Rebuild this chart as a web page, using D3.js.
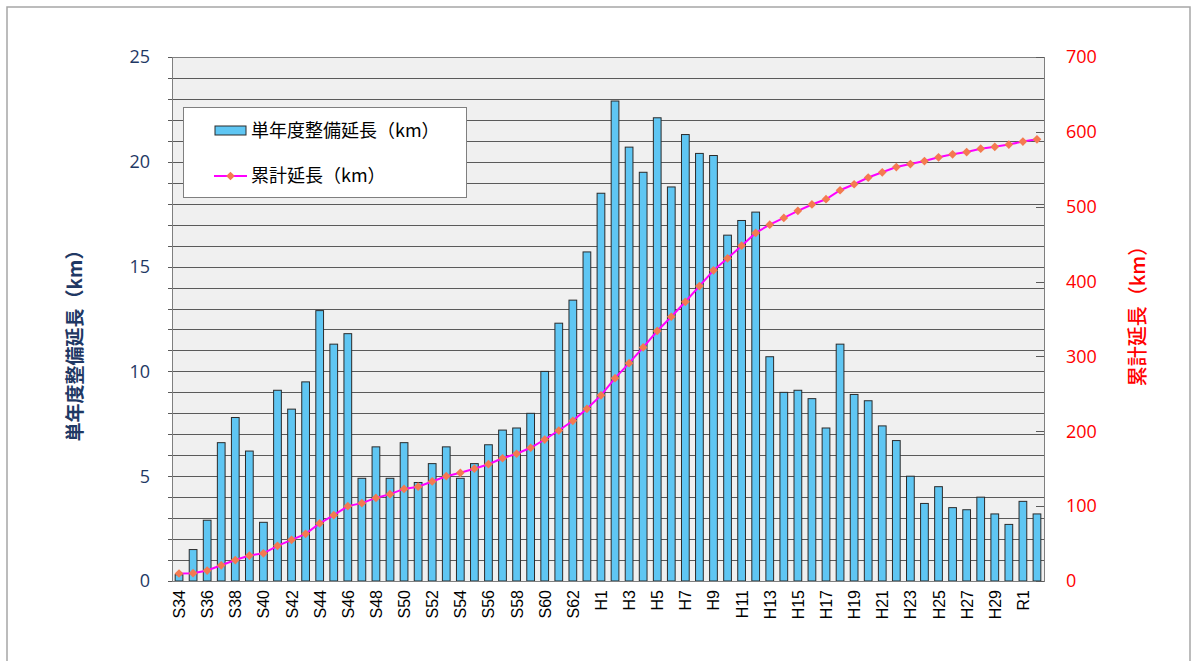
<!DOCTYPE html>
<html>
<head>
<meta charset="utf-8">
<script src="https://cdn.jsdelivr.net/npm/d3@7"></script>
<style>
  body { margin: 0; background: #fff; }
  svg { display: block; }
</style>
</head>
<body>
<div id="chart"></div>
<script>
// fiscal years S34..S63, H1..H30, R1, R2
const years = [];
for (let i = 34; i <= 63; i++) years.push("S" + i);
for (let i = 1; i <= 30; i++) years.push("H" + i);
years.push("R1", "R2");

// single-year length (km)
const yearly = [0.3, 1.5, 2.9, 6.6, 7.8, 6.2, 2.8, 9.1, 8.2, 9.5,
    12.9, 11.3, 11.8, 4.9, 6.4, 4.9, 6.6, 4.7, 5.6, 6.4,
    4.9, 5.6, 6.5, 7.2, 7.3, 8.0, 10.0, 12.3, 13.4, 15.7,
    18.5, 22.9, 20.7, 19.5, 22.1, 18.8, 21.3, 20.4, 20.3, 16.5,
    17.2, 17.6, 10.7, 9.0, 9.1, 8.7, 7.3, 11.3, 8.9, 8.6,
    7.4, 6.7, 5.0, 3.7, 4.5, 3.5, 3.4, 4.0, 3.2, 2.7,
    3.8, 3.2];

// cumulative length (km)
const cumulative = [10, 10.5, 14, 21, 28, 34, 37, 47, 55, 63,
    77, 88, 100, 104, 111, 116, 123, 126, 133, 140,
    144.5, 150, 156, 164, 170, 178, 189, 201, 214, 230,
    248, 271, 291, 312, 334, 353, 373, 394, 415, 431,
    448, 465, 476, 485, 494.5, 503, 510, 522, 530, 539,
    546, 553, 557, 561, 566, 570, 573, 577.5, 580, 583,
    587, 590];

const leftTicks = [0, 5, 10, 15, 20, 25];
const rightTicks = [0, 100, 200, 300, 400, 500, 600, 700];
const barLabel = "単年度整備延長（km）";
const lineLabel = "累計延長（km）";

const W = 1192, H = 661;
const plot = {left: 172, right: 1044, top: 57, bottom: 581};

const svg = d3.select("#chart").append("svg")
    .attr("width", W)
    .attr("height", H);

// outer frame
svg.append("rect")
    .attr("x", 7).attr("y", 7)
    .attr("width", 1183).attr("height", 670)
    .attr("fill", "none")
    .attr("stroke", "#a6a6a6")
    .attr("stroke-width", 1.5);

const x = d3.scaleBand()
    .domain(years)
    .range([plot.left, plot.right])
    .paddingInner(0.45)
    .paddingOuter(0.225);

const y = d3.scaleLinear().domain([0, 25]).range([plot.bottom, plot.top]);
const y2 = d3.scaleLinear().domain([0, 700]).range([plot.bottom, plot.top]);

// plot background
svg.append("rect")
    .attr("x", plot.left).attr("y", plot.top)
    .attr("width", plot.right - plot.left)
    .attr("height", plot.bottom - plot.top)
    .attr("fill", "#f0f0f0");

// gridlines every 1 km
svg.append("g")
    .selectAll("line")
    .data(d3.range(0, 26))
    .join("line")
    .attr("x1", plot.left - 4)
    .attr("x2", plot.right)
    .attr("y1", d => Math.round(y(d)) + 0.5)
    .attr("y2", d => Math.round(y(d)) + 0.5)
    .attr("stroke", "#5a5a5a")
    .attr("stroke-width", 1);

// bars
svg.append("g")
    .selectAll("rect")
    .data(yearly)
    .join("rect")
    .attr("x", (d, i) => x(years[i]))
    .attr("y", d => y(d))
    .attr("width", x.bandwidth())
    .attr("height", d => y(0) - y(d))
    .attr("fill", "#5fc6f3")
    .attr("stroke", "#2b2b2b")
    .attr("stroke-width", 1);

// plot border
svg.append("rect")
    .attr("x", plot.left + 0.5).attr("y", plot.top + 0.5)
    .attr("width", plot.right - plot.left)
    .attr("height", plot.bottom - plot.top)
    .attr("fill", "none")
    .attr("stroke", "#7f7f7f")
    .attr("stroke-width", 1);

// right axis inner ticks
svg.append("g")
    .selectAll("line")
    .data(rightTicks)
    .join("line")
    .attr("x1", plot.right - 8)
    .attr("x2", plot.right)
    .attr("y1", d => Math.round(y2(d)) + 0.5)
    .attr("y2", d => Math.round(y2(d)) + 0.5)
    .attr("stroke", "#5a5a5a");

// cumulative line
const cx = i => x(years[i]) + x.bandwidth() / 2;
const marker = d3.symbol(d3.symbolSquare, 38);
svg.append("path")
    .datum(cumulative)
    .attr("fill", "none")
    .attr("stroke", "#ff00ff")
    .attr("stroke-width", 2)
    .attr("d", d3.line().x((d, i) => cx(i)).y(d => y2(d)));

svg.append("g")
    .selectAll("path")
    .data(cumulative)
    .join("path")
    .attr("transform", (d, i) => `translate(${cx(i)},${y2(d)}) rotate(45)`)
    .attr("d", marker)
    .attr("fill", "#f47a50");

// left axis labels
svg.append("g")
    .selectAll("text")
    .data(leftTicks)
    .join("text")
    .attr("x", 150)
    .attr("y", d => y(d))
    .attr("dy", "0.35em")
    .attr("text-anchor", "end")
    .attr("font-family", "'Open Sans', sans-serif")
    .attr("font-size", 18)
    .attr("fill", "#1f3864")
    .text(d => d);

// right axis labels
svg.append("g")
    .selectAll("text")
    .data(rightTicks)
    .join("text")
    .attr("x", 1066)
    .attr("y", d => y2(d))
    .attr("dy", "0.35em")
    .attr("text-anchor", "start")
    .attr("font-family", "'Open Sans', sans-serif")
    .attr("font-size", 18)
    .attr("fill", "#ff0000")
    .text(d => d);

// x labels, every other year
svg.append("g")
    .selectAll("text")
    .data(years.filter((d, i) => i % 2 === 0))
    .join("text")
    .attr("transform", d => `translate(${x(d) + x.bandwidth() / 2 + 6},590) rotate(-90)`)
    .attr("text-anchor", "end")
    .attr("font-family", "'Liberation Sans', Arial, sans-serif")
    .attr("font-size", 16)
    .attr("fill", "#000")
    .text(d => d);

// axis titles
svg.append("text")
    .attr("transform", "translate(82,341) rotate(-90)")
    .attr("text-anchor", "middle")
    .attr("font-family", "'Noto Sans CJK JP', sans-serif")
    .attr("font-weight", "bold")
    .attr("font-size", 19)
    .attr("fill", "#1f3864")
    .text(barLabel);

svg.append("text")
    .attr("transform", "translate(1145,311) rotate(-90)")
    .attr("text-anchor", "middle")
    .attr("font-family", "'Noto Sans CJK JP', sans-serif")
    .attr("font-weight", 500)
    .attr("font-size", 20)
    .attr("fill", "#ff0000")
    .text(lineLabel);

// legend
const legend = svg.append("g");
legend.append("rect")
    .attr("x", 183.5).attr("y", 107.5)
    .attr("width", 283).attr("height", 90)
    .attr("fill", "#fff")
    .attr("stroke", "#7f7f7f");
legend.append("rect")
    .attr("x", 215).attr("y", 126)
    .attr("width", 31).attr("height", 9)
    .attr("fill", "#5fc6f3")
    .attr("stroke", "#2b2b2b");
legend.append("text")
    .attr("x", 251).attr("y", 131)
    .attr("dy", "0.35em")
    .attr("font-family", "'Noto Sans CJK JP', sans-serif")
    .attr("font-size", 18)
    .text(barLabel);
legend.append("line")
    .attr("x1", 214).attr("x2", 247)
    .attr("y1", 176).attr("y2", 176)
    .attr("stroke", "#ff00ff")
    .attr("stroke-width", 2);
legend.append("path")
    .attr("transform", "translate(230.5,176) rotate(45)")
    .attr("d", marker)
    .attr("fill", "#f47a50");
legend.append("text")
    .attr("x", 251).attr("y", 176)
    .attr("dy", "0.35em")
    .attr("font-family", "'Noto Sans CJK JP', sans-serif")
    .attr("font-size", 18)
    .text(lineLabel);
</script>
</body>
</html>
